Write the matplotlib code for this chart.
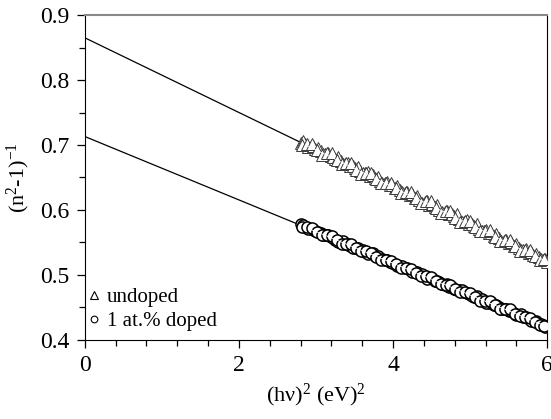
import matplotlib.pyplot as plt
import numpy as np
from matplotlib.ticker import MultipleLocator

plt.rcParams['font.family'] = 'serif'
plt.rcParams['font.serif'] = ['Liberation Serif', 'DejaVu Serif']
plt.rcParams['mathtext.fontset'] = 'custom'
plt.rcParams['mathtext.rm'] = 'Liberation Serif'
plt.rcParams['mathtext.it'] = 'Liberation Serif:italic'
plt.rcParams['axes.unicode_minus'] = False

# (hv)^2 in eV^2, measured points (three interleaved scans)
x_scan_a = [2.80, 2.86, 2.93, 2.99, 3.06, 3.12, 3.19, 3.25, 3.32, 3.38,
            3.44, 3.51, 3.57, 3.64, 3.70, 3.77, 3.83, 3.89, 3.96, 4.02,
            4.09, 4.15, 4.22, 4.28, 4.34, 4.41, 4.47, 4.54, 4.60, 4.67,
            4.73, 4.79, 4.86, 4.92, 4.99, 5.05, 5.12, 5.18, 5.24, 5.31,
            5.37, 5.44, 5.50, 5.57, 5.63, 5.69, 5.76, 5.82, 5.89, 5.95, 6.00]
x_scan_b = [2.83, 2.895, 2.96, 3.025, 3.09, 3.155, 3.22, 3.285, 3.35, 3.41,
            3.475, 3.54, 3.605, 3.67, 3.735, 3.80, 3.86, 3.925, 3.99, 4.055,
            4.12, 4.185, 4.25, 4.31, 4.375, 4.44, 4.505, 4.57, 4.635, 4.70,
            4.76, 4.825, 4.89, 4.955, 5.02, 5.085, 5.15, 5.21, 5.275, 5.34,
            5.405, 5.47, 5.535, 5.60, 5.66, 5.725, 5.79, 5.855, 5.92, 5.975]
x_scan_c = [2.815, 2.88, 2.945, 3.01, 3.075, 3.14, 3.205, 3.27, 3.335, 3.395,
            3.46, 3.525, 3.59, 3.655, 3.72, 3.785, 3.845, 3.91, 3.975, 4.04,
            4.105, 4.17, 4.235, 4.295, 4.36, 4.425, 4.49, 4.555, 4.62, 4.685,
            4.745, 4.81, 4.875, 4.94, 5.005, 5.07, 5.135, 5.195, 5.26, 5.325,
            5.39, 5.455, 5.52, 5.585, 5.645, 5.71, 5.775, 5.84, 5.905, 5.965]

y_undoped_a = [0.703, 0.701, 0.697, 0.694, 0.690, 0.686, 0.683, 0.679, 0.675, 0.671,
               0.668, 0.664, 0.660, 0.657, 0.652, 0.649, 0.645, 0.642, 0.638, 0.634,
               0.631, 0.626, 0.623, 0.619, 0.616, 0.612, 0.608, 0.605, 0.600, 0.597,
               0.594, 0.590, 0.586, 0.582, 0.579, 0.575, 0.571, 0.567, 0.564, 0.560,
               0.557, 0.552, 0.549, 0.545, 0.541, 0.538, 0.534, 0.530, 0.527, 0.523, 0.520]
y_undoped_b = [0.706, 0.697, 0.698, 0.696, 0.686, 0.688, 0.682, 0.681, 0.670, 0.673,
               0.668, 0.666, 0.657, 0.658, 0.653, 0.651, 0.641, 0.643, 0.639, 0.637,
               0.627, 0.628, 0.624, 0.622, 0.611, 0.614, 0.609, 0.607, 0.597, 0.599,
               0.594, 0.593, 0.582, 0.584, 0.579, 0.578, 0.568, 0.569, 0.565, 0.563,
               0.552, 0.554, 0.550, 0.548, 0.539, 0.540, 0.535, 0.532, 0.524, 0.524]
y_undoped_c = [0.700, 0.701, 0.702, 0.692, 0.685, 0.687, 0.687, 0.677, 0.670, 0.672,
               0.672, 0.662, 0.656, 0.657, 0.657, 0.647, 0.641, 0.642, 0.642, 0.633,
               0.626, 0.627, 0.627, 0.618, 0.611, 0.613, 0.613, 0.603, 0.596, 0.598,
               0.598, 0.588, 0.582, 0.583, 0.583, 0.573, 0.567, 0.568, 0.569, 0.559,
               0.552, 0.553, 0.553, 0.544, 0.537, 0.539, 0.538, 0.529, 0.523, 0.524]

y_doped_a = [0.578, 0.574, 0.571, 0.567, 0.564, 0.561, 0.558, 0.554, 0.551, 0.548,
             0.545, 0.542, 0.539, 0.535, 0.533, 0.529, 0.526, 0.523, 0.520, 0.517,
             0.514, 0.510, 0.507, 0.504, 0.501, 0.498, 0.495, 0.491, 0.489, 0.485,
             0.482, 0.479, 0.476, 0.473, 0.470, 0.466, 0.463, 0.460, 0.457, 0.454,
             0.451, 0.447, 0.445, 0.441, 0.438, 0.435, 0.432, 0.429, 0.425, 0.423, 0.421]
y_doped_b = [0.577, 0.571, 0.571, 0.566, 0.561, 0.561, 0.557, 0.551, 0.552, 0.548,
             0.542, 0.542, 0.538, 0.532, 0.533, 0.529, 0.524, 0.523, 0.519, 0.513,
             0.514, 0.510, 0.505, 0.505, 0.501, 0.494, 0.495, 0.491, 0.486, 0.486,
             0.482, 0.476, 0.476, 0.472, 0.467, 0.467, 0.463, 0.457, 0.458, 0.453,
             0.448, 0.448, 0.444, 0.438, 0.439, 0.435, 0.429, 0.429, 0.425, 0.420]
y_doped_c = [0.574, 0.573, 0.572, 0.566, 0.561, 0.561, 0.560, 0.553, 0.548, 0.548,
             0.547, 0.541, 0.536, 0.536, 0.534, 0.528, 0.523, 0.523, 0.522, 0.516,
             0.511, 0.510, 0.509, 0.503, 0.498, 0.498, 0.497, 0.491, 0.486, 0.485,
             0.484, 0.478, 0.473, 0.473, 0.472, 0.466, 0.460, 0.460, 0.459, 0.453,
             0.448, 0.448, 0.447, 0.440, 0.436, 0.435, 0.434, 0.428, 0.423, 0.422]

x_all = x_scan_a + x_scan_b + x_scan_c
y_undoped = y_undoped_a + y_undoped_b + y_undoped_c
y_doped = y_doped_a + y_doped_b + y_doped_c

# linear fits (intercept, slope) extrapolated to hv = 0
fit_undoped = (0.865, -0.0575)
fit_doped = (0.713, -0.0488)

fig = plt.figure(figsize=(5.51, 4.19), dpi=100)
ax = fig.add_axes([0.154, 0.189, 0.839, 0.775])

xf = np.array([0.0, 6.0])
for b, m in (fit_undoped, fit_doped):
    ax.plot(xf, b + m * xf, color='black', lw=0.9, zorder=2)

ax.plot(x_all, y_undoped, linestyle='none', marker='^', ms=9,
        mfc='white', mec='#3a3a3a', mew=0.7, zorder=3, label='undoped')
ax.plot(x_all, y_doped, linestyle='none', marker='o', ms=8,
        mfc='white', mec='black', mew=1.1, zorder=3, label='1 at.% doped')

# fit line shown through the point clouds
xd = np.array([2.9, 6.0])
for b, m in (fit_undoped, fit_doped):
    ax.plot(xd, b + m * xd, color='white', lw=0.6, zorder=4)

ax.set_xlim(0, 6)
ax.set_ylim(0.4, 0.9)
ax.xaxis.set_major_locator(MultipleLocator(2))
ax.xaxis.set_minor_locator(MultipleLocator(0.4))
ax.yaxis.set_major_locator(MultipleLocator(0.1))
ax.yaxis.set_minor_locator(MultipleLocator(0.05))
ax.tick_params(which='both', direction='out', top=False, right=False,
               labelsize=17, width=0.9)
ax.tick_params(which='major', length=6, pad=5)
ax.tick_params(which='minor', length=4)
ax.spines['top'].set_color('#888888')
ax.spines['top'].set_linewidth(1.5)

ax.set_xlabel('(h\u03bd)$^2$ (eV)$^2$', fontsize=16, labelpad=4)
ax.set_ylabel('(n$^2$-1)$^{-1}$', fontsize=16, labelpad=6)

leg = ax.legend(loc='lower left', bbox_to_anchor=(-0.022, -0.012), frameon=False,
                fontsize=15, handlelength=0.7, handletextpad=0.25, labelspacing=0.2,
                borderaxespad=0.2, markerscale=0.6)
for h in leg.legend_handles:
    h.set_markeredgewidth(0.8)
    h.set_markeredgecolor('black')

fig.savefig('out.png', dpi=100)
